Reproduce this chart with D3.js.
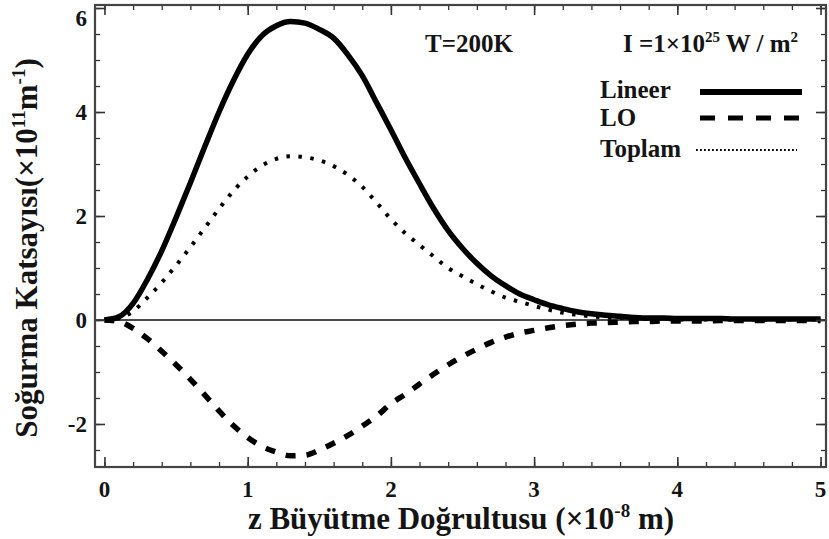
<!DOCTYPE html>
<html>
<head>
<meta charset="utf-8">
<script src="https://cdn.jsdelivr.net/npm/d3@7/dist/d3.min.js"></script>
<style>
  html, body { margin: 0; padding: 0; background: #fff; }
  svg { display: block; }
  text { font-family: "Liberation Serif", "Times New Roman", serif; font-weight: bold; fill: #141414; }
</style>
</head>
<body>
<svg id="chart" width="829" height="539"></svg>
<script>
// z growth direction (×10^-8 m), sampled every 0.1
const zValues = [
  0.0, 0.1, 0.2, 0.3, 0.4, 0.5, 0.6, 0.7, 0.8, 0.9,
  1.0, 1.1, 1.2, 1.3, 1.4, 1.5, 1.6, 1.7, 1.8, 1.9,
  2.0, 2.1, 2.2, 2.3, 2.4, 2.5, 2.6, 2.7, 2.8, 2.9,
  3.0, 3.1, 3.2, 3.3, 3.4, 3.5, 3.6, 3.7, 3.8, 3.9,
  4.0, 4.1, 4.2, 4.3, 4.4, 4.5, 4.6, 4.7, 4.8, 4.9, 5.0
];

// absorption coefficient (×10^11 m^-1)
const lineer = [
  0.00, 0.06, 0.32, 0.78, 1.33, 1.97, 2.64, 3.33, 4.00, 4.60,
  5.11, 5.47, 5.66, 5.74, 5.71, 5.59, 5.42, 5.10, 4.70, 4.18,
  3.66, 3.12, 2.62, 2.14, 1.72, 1.38, 1.09, 0.85, 0.66, 0.50,
  0.39, 0.29, 0.22, 0.16, 0.12, 0.09, 0.07, 0.05, 0.04, 0.04,
  0.03, 0.03, 0.03, 0.03, 0.02, 0.02, 0.02, 0.02, 0.02, 0.02, 0.02
];

const lo = [
  0.00, -0.03, -0.16, -0.36, -0.60, -0.86, -1.14, -1.44, -1.75, -2.03,
  -2.26, -2.43, -2.54, -2.61, -2.60, -2.50, -2.37, -2.22, -2.04, -1.85,
  -1.61, -1.43, -1.23, -1.04, -0.86, -0.70, -0.56, -0.43, -0.33, -0.25,
  -0.20, -0.15, -0.11, -0.08, -0.06, -0.05, -0.04, -0.03, -0.03, -0.02,
  -0.02, -0.02, -0.02, -0.01, -0.01, -0.01, -0.01, -0.01, -0.01, -0.01, -0.01
];

const toplam = [
  0.00, 0.03, 0.17, 0.43, 0.72, 1.05, 1.40, 1.77, 2.14, 2.48,
  2.76, 2.97, 3.10, 3.15, 3.13, 3.07, 2.96, 2.79, 2.56, 2.26,
  1.94, 1.67, 1.44, 1.22, 1.00, 0.84, 0.69, 0.55, 0.43, 0.35,
  0.27, 0.20, 0.14, 0.10, 0.07, 0.05, 0.04, 0.03, 0.02, 0.02,
  0.01, 0.01, 0.01, 0.01, 0.01, 0.01, 0.01, 0.01, 0.01, 0.01, 0.01
];

const xTicks = [0, 1, 2, 3, 4, 5];
const yTicks = [-2, 0, 2, 4, 6];
const seriesNames = ["Lineer", "LO", "Toplam"];

const svg = d3.select("#chart");
const plot = { left: 95, right: 826, top: 5, bottom: 467 };

const x = d3.scaleLinear().domain([-0.066, 5.038]).range([plot.left, plot.right]);
const y = d3.scaleLinear().domain([-2.827, 6.058]).range([plot.bottom, plot.top]);

// clip the curves to the frame
svg.append("clipPath").attr("id", "plotClip")
  .append("rect")
  .attr("x", plot.left).attr("y", plot.top)
  .attr("width", plot.right - plot.left).attr("height", plot.bottom - plot.top);

// zero reference line
svg.append("line")
  .attr("x1", plot.left).attr("x2", plot.right)
  .attr("y1", y(0)).attr("y2", y(0))
  .attr("stroke", "#111").attr("stroke-width", 1.6);

const styles = {
  Lineer: { width: 5.5, dash: null },
  LO: { width: 5.5, dash: "10,11" },
  Toplam: { width: 4, dash: "3.5,8.5" }
};
const seriesData = { Lineer: lineer, LO: lo, Toplam: toplam };

const line = d3.line()
  .x(d => x(d[0]))
  .y(d => y(d[1]))
  .curve(d3.curveMonotoneX);

const curves = svg.append("g").attr("clip-path", "url(#plotClip)");
["Toplam", "LO", "Lineer"].forEach(name => {
  const pts = zValues.map((z, i) => [z, seriesData[name][i]]);
  curves.append("path")
    .datum(pts)
    .attr("d", line)
    .attr("fill", "none")
    .attr("stroke", "#000")
    .attr("stroke-width", styles[name].width)
    .attr("stroke-dasharray", styles[name].dash)
    .attr("stroke-linecap", "butt");
});

// axes: ticks pointing inward on all four sides
const xMinor = d3.range(0, 5.01, 0.2).map(v => +v.toFixed(1));
const yMinor = d3.range(-2.5, 6.01, 0.5);
const tickColor = "#333";

function ticks(axisGen, transform, majorLen, minorLen, majors, minors) {
  const gMinor = svg.append("g").attr("transform", transform)
    .call(axisGen.tickValues(minors).tickSize(minorLen).tickFormat(""));
  gMinor.select(".domain").remove();
  gMinor.selectAll("line").attr("stroke", tickColor).attr("stroke-width", 1.3);
  const gMajor = svg.append("g").attr("transform", transform)
    .call(axisGen.tickValues(majors).tickSize(majorLen).tickFormat(""));
  gMajor.select(".domain").remove();
  gMajor.selectAll("line").attr("stroke", tickColor).attr("stroke-width", 1.6);
}

ticks(d3.axisTop(x), `translate(0,${plot.bottom})`, 10, 5, xTicks, xMinor);
ticks(d3.axisBottom(x), `translate(0,${plot.top})`, 10, 5, xTicks, xMinor);
ticks(d3.axisRight(y), `translate(${plot.left},0)`, 10, 5, yTicks, yMinor);
ticks(d3.axisLeft(y), `translate(${plot.right},0)`, 10, 5, yTicks, yMinor);

// frame
svg.append("rect")
  .attr("x", plot.left).attr("y", plot.top)
  .attr("width", plot.right - plot.left).attr("height", plot.bottom - plot.top)
  .attr("fill", "none").attr("stroke", "#444").attr("stroke-width", 2.2);

// tick labels
svg.append("g").selectAll("text").data(xTicks).join("text")
  .attr("x", d => x(d)).attr("y", plot.bottom + 30)
  .attr("text-anchor", "middle").attr("font-size", 23)
  .text(d => d);

svg.append("g").selectAll("text").data(yTicks).join("text")
  .attr("x", plot.left - 8).attr("y", d => Math.max(y(d) + 8, 26))
  .attr("text-anchor", "end").attr("font-size", 23)
  .text(d => d);

// axis titles
const xTitle = svg.append("text")
  .attr("x", 461).attr("y", 529)
  .attr("text-anchor", "middle").attr("font-size", 31);
xTitle.append("tspan").text("z Büyütme Doğrultusu (×10");
xTitle.append("tspan").attr("font-size", 19).attr("dy", -12).text("-8");
xTitle.append("tspan").attr("dy", 12).text(" m)");

const yTitle = svg.append("text")
  .attr("transform", "translate(37,248) rotate(-90)")
  .attr("text-anchor", "middle").attr("font-size", 31);
yTitle.append("tspan").text("Soğurma Katsayısı(×10");
yTitle.append("tspan").attr("font-size", 19).attr("dy", -12).text("11");
yTitle.append("tspan").attr("dy", 12).text("m");
yTitle.append("tspan").attr("font-size", 19).attr("dy", -12).text("-1");
yTitle.append("tspan").attr("dy", 12).text(")");

// annotations
svg.append("text").attr("x", 425).attr("y", 52).attr("font-size", 25).text("T=200K");
const iText = svg.append("text").attr("x", 623).attr("y", 52).attr("font-size", 25);
iText.append("tspan").text("I =1×10");
iText.append("tspan").attr("font-size", 15).attr("dy", -10).text("25");
iText.append("tspan").attr("dy", 10).text(" W / m");
iText.append("tspan").attr("font-size", 15).attr("dy", -10).text("2");

// legend
const legendRows = [
  { name: seriesNames[0], ty: 98, ly: 92, x1: 700, x2: 802, w: 6, dash: null },
  { name: seriesNames[1], ty: 126, ly: 118, x1: 700, x2: 802, w: 5, dash: "15,13" },
  { name: seriesNames[2], ty: 157, ly: 150, x1: 696, x2: 797, w: 2.2, dash: "1.8,2.2" }
];
const legend = svg.append("g");
legendRows.forEach(r => {
  legend.append("text").attr("x", 600).attr("y", r.ty).attr("font-size", 25).text(r.name);
  legend.append("line")
    .attr("x1", r.x1).attr("x2", r.x2).attr("y1", r.ly).attr("y2", r.ly)
    .attr("stroke", "#000").attr("stroke-width", r.w)
    .attr("stroke-dasharray", r.dash);
});
</script>
</body>
</html>
